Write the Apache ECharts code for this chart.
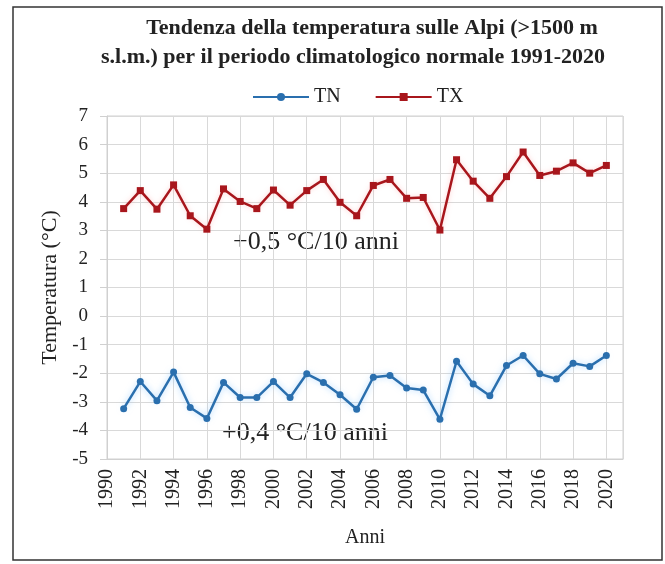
<!DOCTYPE html>
<html><head><meta charset="utf-8">
<script src="https://cdn.jsdelivr.net/npm/echarts@6/dist/echarts.min.js"></script>
<style>html,body{margin:0;padding:0;background:#fff}#c{width:665px;height:564px}</style>
</head><body><div id="c"></div>
<script>
const years = [1991,1992,1993,1994,1995,1996,1997,1998,1999,2000,2001,2002,2003,2004,2005,2006,2007,2008,2009,2010,2011,2012,2013,2014,2015,2016,2017,2018,2019,2020];
const TN = [-3.24,-2.29,-2.96,-1.96,-3.2,-3.58,-2.32,-2.85,-2.85,-2.29,-2.85,-2.02,-2.32,-2.75,-3.26,-2.14,-2.08,-2.52,-2.59,-3.61,-1.58,-2.38,-2.79,-1.73,-1.38,-2.02,-2.2,-1.65,-1.76,-1.38];
const TX = [3.76,4.39,3.74,4.59,3.51,3.04,4.45,4.01,3.76,4.41,3.88,4.39,4.78,3.98,3.51,4.57,4.78,4.12,4.15,3.01,5.47,4.72,4.12,4.88,5.74,4.92,5.07,5.36,5.0,5.27];
const titleLines = ['Tendenza della temperatura sulle Alpi (>1500 m', 's.l.m.) per il periodo climatologico normale 1991-2020'];
const trendTX = '+0,5 °C/10 anni';
const trendTN = '+0,4 °C/10 anni';

const serif = '"Liberation Serif", "DejaVu Serif", serif';
const chart = echarts.init(document.getElementById('c'));
const pair = a => years.map((y,i)=>[y,a[i]]);
chart.setOption({
  animation:false,
  backgroundColor:'#fff',
  legend:{top:87, left:252, padding:[0,0,0,0], itemWidth:56, itemHeight:10, itemGap:34,
    textStyle:{fontFamily:serif, fontSize:20, color:'#222'}, data:['TN','TX']},
  grid:{left:107, right:42, top:116, bottom:105, show:true, borderColor:'#d0d0d0', borderWidth:1},
  xAxis:{type:'value', min:1990, max:2021, interval:2,
    name:'Anni', nameLocation:'middle', nameGap:69,
    nameTextStyle:{fontFamily:serif, fontSize:20, color:'#222'},
    axisLine:{show:true, onZero:false, lineStyle:{color:'#d0d0d0'}},
    axisTick:{show:false},
    axisLabel:{rotate:90, margin:10, showMaxLabel:false, fontFamily:serif, fontSize:20, color:'#222', formatter:v=>String(v)},
    splitLine:{show:true, lineStyle:{color:'#d9d9d9', width:1}}},
  yAxis:{type:'value', min:-5, max:7, interval:1,
    name:'Temperatura (°C)', nameLocation:'middle', nameGap:46,
    nameTextStyle:{fontFamily:serif, fontSize:22, color:'#222'},
    axisLine:{show:true, lineStyle:{color:'#d0d0d0'}},
    axisTick:{show:true, inside:false, length:7, lineStyle:{color:'#d0d0d0'}},
    axisLabel:{margin:19, fontFamily:serif, fontSize:19, color:'#222'},
    splitLine:{show:true, lineStyle:{color:'#d9d9d9', width:1}}},
  series:[
    {name:'TN', type:'line', data:pair(TN), symbol:'circle', symbolSize:7,
     lineStyle:{color:'#2a6fae', width:2.5, shadowColor:'rgba(120,190,255,0.6)', shadowBlur:6},
     itemStyle:{color:'#2a6fae'}},
    {name:'TX', type:'line', data:pair(TX), symbol:'rect', symbolSize:7,
     lineStyle:{color:'#a8161c', width:2.5, shadowColor:'rgba(255,160,160,0.5)', shadowBlur:5},
     itemStyle:{color:'#a8161c'}}
  ],
  graphic:[
    {type:'rect', shape:{x:13,y:7,width:649,height:553}, style:{fill:'none', stroke:'#333', lineWidth:1.5}, z:-1},
    {type:'text', x:372, y:28, style:{text:titleLines[0], font:'bold 22px '+serif, fill:'#222', textAlign:'center', textVerticalAlign:'middle'}},
    {type:'text', x:353, y:57, style:{text:titleLines[1], font:'bold 22px '+serif, fill:'#222', textAlign:'center', textVerticalAlign:'middle'}},
    {type:'text', left:233, top:229, style:{text:trendTX, font:'26px '+serif, fill:'#222'}},
    {type:'text', left:222, top:420, style:{text:trendTN, font:'26px '+serif, fill:'#222'}}
  ]
});
</script></body></html>
